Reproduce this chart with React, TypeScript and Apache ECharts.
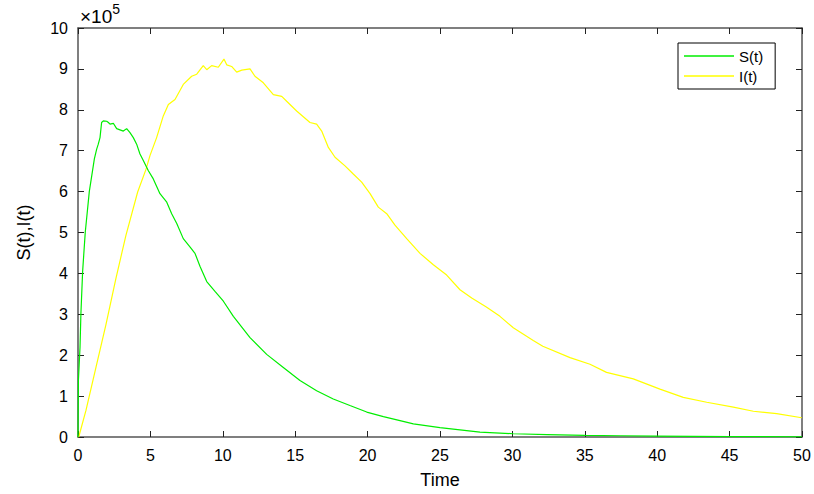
import React, { useEffect, useRef } from "react";
import * as echarts from "echarts";

// time points and values (in units of 10^5)
const sTime = [0, 0.03, 0.14, 0.2, 0.32, 0.5, 0.78, 1.13, 1.29, 1.4, 1.52, 1.63, 1.75, 1.98, 2.1, 2.21, 2.44, 2.67, 2.9, 3.13, 3.36, 3.59, 3.82, 4.05, 4.28, 4.51, 4.86, 5.2, 5.66, 6.13, 6.47, 6.82, 7.27, 7.73, 8.08, 8.43, 8.89, 9.46, 10.04, 10.73, 11.88, 13.03, 14.18, 15.33, 16.48, 17.63, 18.78, 19.94, 21.09, 22.24, 23.16, 25, 27.76, 30.06, 32.4, 35, 37.5, 40, 45, 50];
const sValues = [0, 1.4, 2.2, 3.0, 4.05, 5.0, 6.0, 6.8, 7.04, 7.16, 7.32, 7.69, 7.73, 7.72, 7.69, 7.65, 7.67, 7.54, 7.51, 7.48, 7.54, 7.44, 7.32, 7.16, 6.92, 6.76, 6.51, 6.31, 5.95, 5.74, 5.46, 5.22, 4.85, 4.65, 4.49, 4.17, 3.8, 3.56, 3.32, 2.95, 2.43, 2.02, 1.7, 1.38, 1.13, 0.93, 0.77, 0.61, 0.5, 0.4, 0.32, 0.23, 0.12, 0.08, 0.06, 0.04, 0.03, 0.02, 0.01, 0.005];

const iTime = [0, 0.05, 0.55, 1.24, 1.93, 2.62, 3.31, 4.12, 4.7, 4.97, 5.43, 5.89, 6.24, 6.7, 7.27, 7.85, 8.2, 8.65, 8.89, 9.23, 9.69, 10.08, 10.27, 10.61, 10.96, 11.31, 11.88, 12.22, 12.8, 13.49, 14.07, 14.41, 15.1, 15.56, 16.02, 16.48, 16.83, 17.29, 17.75, 18.44, 19.01, 19.59, 20.17, 20.74, 21.32, 21.89, 22.7, 23.62, 24.54, 25.46, 26.38, 27.19, 28.2, 29.14, 30.06, 31.44, 32.1, 33.98, 35.36, 36.5, 38.35, 40.19, 41.8, 43.42, 45.26, 46.64, 48.25, 49.98];
const iValues = [0, 0, 0.65, 1.7, 2.75, 3.88, 4.93, 5.99, 6.55, 6.88, 7.32, 7.85, 8.13, 8.25, 8.62, 8.82, 8.87, 9.08, 8.98, 9.08, 9.04, 9.24, 9.1, 9.06, 8.92, 8.97, 9.0, 8.82, 8.66, 8.37, 8.33, 8.21, 7.97, 7.83, 7.69, 7.65, 7.48, 7.08, 6.84, 6.63, 6.43, 6.23, 5.95, 5.62, 5.46, 5.18, 4.85, 4.49, 4.21, 3.96, 3.6, 3.4, 3.18, 2.95, 2.67, 2.36, 2.22, 1.94, 1.78, 1.58, 1.42, 1.17, 0.97, 0.85, 0.73, 0.63, 0.57, 0.47];

const seriesNames = ["S(t)", "I(t)"];
const seriesColors = ["#00ee00", "#ffff00"];
const xName = "Time";
const yName = "S(t),I(t)";

const FONT = "'Liberation Sans', Arial, Helvetica, sans-serif";

const mkLine = () => ({ show: true, onZero: false, lineStyle: { color: "#555", width: 1.5 } });
const mkTick = () => ({ show: true, inside: true, length: 6, lineStyle: { color: "#222", width: 1 } });

export default function App() {
  const ref = useRef<HTMLDivElement>(null);
  useEffect(() => {
    if (!ref.current) return;
    const chart = echarts.init(ref.current, undefined, { renderer: "svg" });
    chart.setOption({
      animation: false,
      backgroundColor: "#fff",
      textStyle: { fontFamily: FONT },
      grid: { left: 78, right: 12, top: 28, bottom: 54, containLabel: false },
      legend: {
        data: seriesNames.map((n, i) => ({ name: n, icon: "rect", itemStyle: { color: seriesColors[i] } })),
        orient: "vertical",
        left: 678,
        top: 43,
        itemWidth: 50,
        itemHeight: 1.5,
        itemGap: 4,
        padding: [5, 12, 5, 6],
        borderColor: "#000",
        borderWidth: 1,
        backgroundColor: "#fff",
        textStyle: { fontFamily: FONT, fontSize: 15, color: "#000", lineHeight: 16 },
      },
      graphic: [
        {
          type: "text",
          left: 80,
          top: 2,
          style: {
            text: "{a|×10}{b|5}",
            rich: {
              a: { fontFamily: FONT, fontSize: 19, color: "#222", verticalAlign: "bottom", lineHeight: 24 },
              b: { fontFamily: FONT, fontSize: 14, color: "#222", verticalAlign: "top", lineHeight: 24 },
            },
          },
        },
      ],
      xAxis: [
        {
          type: "value",
          min: 0,
          max: 50,
          interval: 5,
          position: "bottom",
          name: xName,
          nameLocation: "middle",
          nameGap: 34,
          nameTextStyle: { fontFamily: FONT, fontSize: 18, color: "#000" },
          axisLine: mkLine(),
          axisTick: mkTick(),
          axisLabel: { fontFamily: FONT, fontSize: 16, color: "#000", margin: 10 },
          splitLine: { show: false },
        },
        {
          type: "value",
          min: 0,
          max: 50,
          interval: 5,
          position: "top",
          axisLine: mkLine(),
          axisTick: mkTick(),
          axisLabel: { show: false },
          splitLine: { show: false },
        },
      ],
      yAxis: [
        {
          type: "value",
          min: 0,
          max: 10,
          interval: 1,
          position: "left",
          name: yName,
          nameLocation: "middle",
          nameGap: 45,
          nameRotate: 90,
          nameTextStyle: { fontFamily: FONT, fontSize: 18, color: "#000" },
          axisLine: mkLine(),
          axisTick: mkTick(),
          axisLabel: { fontFamily: FONT, fontSize: 16, color: "#000", margin: 10 },
          splitLine: { show: false },
        },
        {
          type: "value",
          min: 0,
          max: 10,
          interval: 1,
          position: "right",
          axisLine: mkLine(),
          axisTick: mkTick(),
          axisLabel: { show: false },
          splitLine: { show: false },
        },
      ],
      series: [
        {
          name: seriesNames[0],
          type: "line",
          xAxisIndex: 0,
          yAxisIndex: 0,
          symbol: "none",
          showSymbol: false,
          lineStyle: { color: seriesColors[0], width: 1.2 },
          itemStyle: { color: seriesColors[0] },
          data: sTime.map((t, i) => [t, sValues[i]]),
          z: 3,
        },
        {
          name: seriesNames[1],
          type: "line",
          xAxisIndex: 0,
          yAxisIndex: 0,
          symbol: "none",
          showSymbol: false,
          lineStyle: { color: seriesColors[1], width: 1.2 },
          itemStyle: { color: seriesColors[1] },
          data: iTime.map((t, i) => [t, iValues[i]]),
          z: 2,
        },
      ],
    });
    return () => chart.dispose();
  }, []);
  return <div ref={ref} style={{ width: 814, height: 494, position: "absolute", left: 0, top: 0 }} />;
}
